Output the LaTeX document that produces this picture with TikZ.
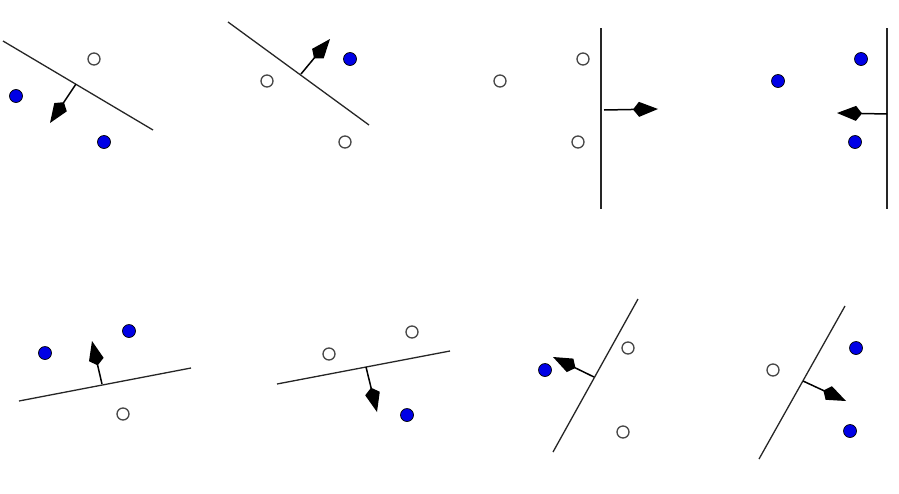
\documentclass[tikz,border=0pt]{standalone}
\usetikzlibrary{arrows.meta}
\definecolor{ptblue}{RGB}{0,0,230}
\definecolor{ringgray}{RGB}{70,70,70}
\tikzset{
  bluept/.style={circle,draw=black,line width=0.7pt,fill=ptblue,minimum size=13pt,inner sep=0pt},
  openpt/.style={circle,draw=ringgray,line width=1.3pt,fill=white,minimum size=12pt,inner sep=0pt},
  sepline/.style={line width=1.3pt,draw=black!85},
  normalarrow/.style={line width=1.5pt,-{Kite[length=25pt,width=15pt,inset=6pt]}}
}
\begin{document}
\begin{tikzpicture}[x=1pt,y=-1pt]
\useasboundingbox (0,0) rectangle (899,493);
% Panel 1
\coordinate (l1a) at (3,41); \coordinate (l1b) at (153,130);
\draw[sepline] (l1a) -- (l1b);
\coordinate (a1s) at (76,84); \coordinate (a1e) at (50,123);
\draw[normalarrow] (a1s) -- (a1e);
\node[openpt] (p1a) at (94,59) {};
\node[bluept] (p1b) at (16,96) {};
\node[bluept] (p1c) at (104,142) {};
% Panel 2
\coordinate (l2a) at (228,22); \coordinate (l2b) at (369,125);
\draw[sepline] (l2a) -- (l2b);
\coordinate (a2s) at (301,74); \coordinate (a2e) at (330,39);
\draw[normalarrow] (a2s) -- (a2e);
\node[bluept] (p2a) at (350,59) {};
\node[openpt] (p2b) at (267,81) {};
\node[openpt] (p2c) at (345,142) {};
% Panel 3
\coordinate (l3a) at (601,28); \coordinate (l3b) at (601,209);
\draw[sepline] (l3a) -- (l3b);
\coordinate (a3s) at (604,110); \coordinate (a3e) at (658,109);
\draw[normalarrow] (a3s) -- (a3e);
\node[openpt] (p3a) at (583,59) {};
\node[openpt] (p3b) at (500,81) {};
\node[openpt] (p3c) at (578,142) {};
% Panel 4
\coordinate (l4a) at (887,28); \coordinate (l4b) at (887,209);
\draw[sepline] (l4a) -- (l4b);
\coordinate (a4s) at (887,114); \coordinate (a4e) at (837,113);
\draw[normalarrow] (a4s) -- (a4e);
\node[bluept] (p4a) at (861,59) {};
\node[bluept] (p4b) at (778,81) {};
\node[bluept] (p4c) at (855,142) {};
% Panel 5
\coordinate (l5a) at (19,401); \coordinate (l5b) at (191,368);
\draw[sepline] (l5a) -- (l5b);
\coordinate (a5s) at (102,384); \coordinate (a5e) at (92,341);
\draw[normalarrow] (a5s) -- (a5e);
\node[bluept] (p5a) at (45,353) {};
\node[bluept] (p5b) at (129,331) {};
\node[openpt] (p5c) at (123,414) {};
% Panel 6
\coordinate (l6a) at (277,384); \coordinate (l6b) at (450,351);
\draw[sepline] (l6a) -- (l6b);
\coordinate (a6s) at (366,367); \coordinate (a6e) at (377,412);
\draw[normalarrow] (a6s) -- (a6e);
\node[openpt] (p6a) at (329,354) {};
\node[openpt] (p6b) at (412,332) {};
\node[bluept] (p6c) at (407,415) {};
% Panel 7
\coordinate (l7a) at (638,299); \coordinate (l7b) at (553,452);
\draw[sepline] (l7a) -- (l7b);
\coordinate (a7s) at (594,377); \coordinate (a7e) at (553,357);
\draw[normalarrow] (a7s) -- (a7e);
\node[bluept] (p7a) at (545,370) {};
\node[openpt] (p7b) at (628,348) {};
\node[openpt] (p7c) at (623,432) {};
% Panel 8
\coordinate (l8a) at (845,306); \coordinate (l8b) at (759,459);
\draw[sepline] (l8a) -- (l8b);
\coordinate (a8s) at (803,381); \coordinate (a8e) at (846,401);
\draw[normalarrow] (a8s) -- (a8e);
\node[openpt] (p8a) at (773,370) {};
\node[bluept] (p8b) at (856,348) {};
\node[bluept] (p8c) at (850,431) {};
\end{tikzpicture}
\end{document}
